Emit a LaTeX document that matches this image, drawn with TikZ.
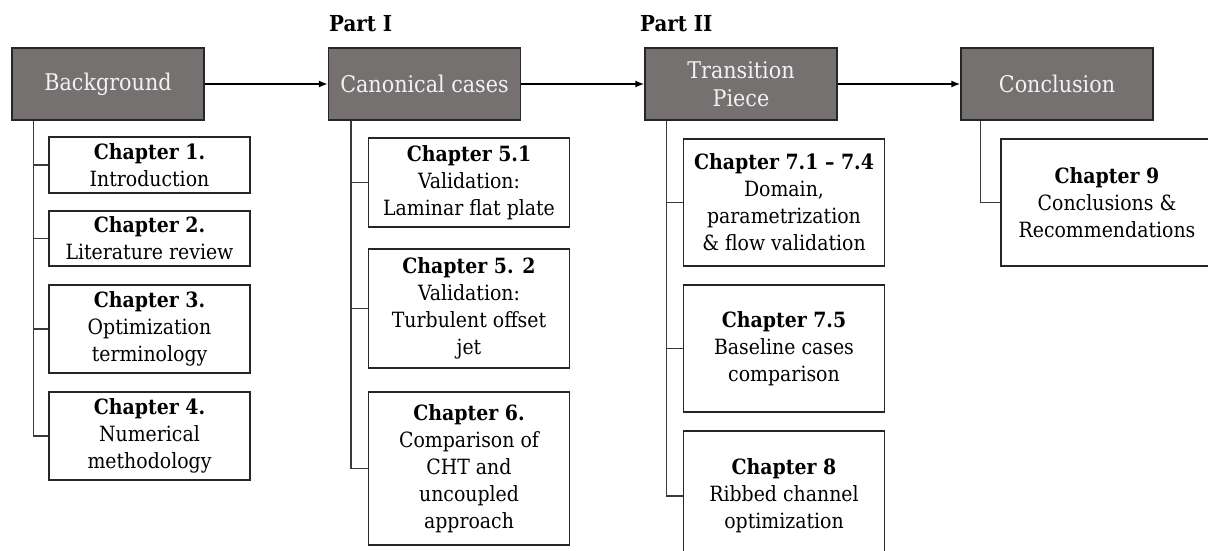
\documentclass[tikz,border=0pt]{standalone}
\usepackage{fontspec}
\setmainfont{DejaVu Serif Condensed}
\usetikzlibrary{arrows.meta}
\definecolor{headgray}{HTML}{757171}
\definecolor{headtext}{HTML}{F2F2F2}
\definecolor{linkgray}{HTML}{3A3A3A}

\begin{document}
\begin{tikzpicture}[x=1pt,y=-1pt,
        headbox/.style={draw=black!85,line width=1.3pt,fill=headgray,text=headtext,
            minimum width=192pt,minimum height=72pt,align=center,inner sep=0pt,
            font=\fontsize{23}{28}\selectfont},
        chapbox/.style={draw=black!85,line width=1.3pt,fill=white,align=center,inner sep=0pt,
            minimum width=201pt,font=\fontsize{21}{27}\selectfont},
        parttitle/.style={anchor=base west,inner sep=0pt,font=\fontsize{22}{26}\selectfont\bfseries},
        stem/.style={draw=linkgray,line width=1.4pt},
        flow/.style={line width=1.5pt,-{Latex[length=9pt,width=7pt]}}]
    \useasboundingbox (0,0) rectangle (1208,551);

    % part titles
    \node[parttitle] (part1) at (329,32) {Part I};
    \node[parttitle] (part2) at (640,32) {Part II};

    % main line
    \node[headbox] (bg) at (108,84) {Background};
    \node[headbox] (canon) at (424.5,84) {Canonical cases};
    \node[headbox] (trans) at (741,84) {Transition\\Piece};
    \node[headbox] (concl) at (1057,84) {Conclusion};

    \draw[flow] (bg) -- (canon);
    \draw[flow] (canon) -- (trans);
    \draw[flow] (trans) -- (concl);

    % chapters
    \node[chapbox,minimum height=56pt] (ch1) at (149.5,165) {\textbf{Chapter 1.}\\Introduction};
    \node[chapbox,minimum height=55pt] (ch2) at (149.5,238.5) {\textbf{Chapter 2.}\\Literature review};
    \node[chapbox,minimum height=88pt] (ch3) at (149.5,329) {\textbf{Chapter 3.}\\Optimization\\terminology};
    \node[chapbox,minimum height=88pt] (ch4) at (149.5,436) {\textbf{Chapter 4.}\\Numerical\\methodology};

    \node[chapbox,minimum height=89pt] (ch51) at (469,182.5) {\textbf{Chapter 5.1}\\Validation:\\Laminar flat plate};
    \node[chapbox,minimum height=119pt] (ch52) at (469,308.5) {\textbf{Chapter 5. 2}\\Validation:\\Turbulent offset\\jet};
    \node[chapbox,minimum height=153pt] (ch6) at (469,468.5) {\textbf{Chapter 6.}\\Comparison of\\CHT and\\uncoupled\\approach};

    \node[chapbox,minimum height=127pt] (ch71) at (784,202.5) {\textbf{Chapter 7.1 – 7.4}\\Domain,\\parametrization\\\& flow validation};
    \node[chapbox,minimum height=127pt] (ch75) at (784,348.5) {\textbf{Chapter 7.5}\\Baseline cases\\comparison};
    \node[chapbox,minimum height=130pt] (ch8) at (784,496) {\textbf{Chapter 8}\\Ribbed channel\\optimization};

    \node[chapbox,minimum width=212pt,minimum height=127pt] (ch9) at (1107,202.5) {\textbf{Chapter 9}\\Conclusions \&\\Recommendations};

    % stems
    \coordinate (bgstem) at ([xshift=22pt]bg.south west);
    \coordinate (canonstem) at ([xshift=23pt]canon.south west);
    \coordinate (transstem) at ([xshift=22pt]trans.south west);
    \coordinate (conclstem) at ([xshift=20pt]concl.south west);

    \foreach \c in {ch1,ch2,ch3,ch4} \draw[stem] (bgstem) |- (\c.west);
    \foreach \c in {ch51,ch52,ch6} \draw[stem] (canonstem) |- (\c.west);
    \foreach \c in {ch71,ch75,ch8} \draw[stem] (transstem) |- (\c.west);
    \draw[stem] (conclstem) |- (ch9.west);
\end{tikzpicture}
\end{document}
